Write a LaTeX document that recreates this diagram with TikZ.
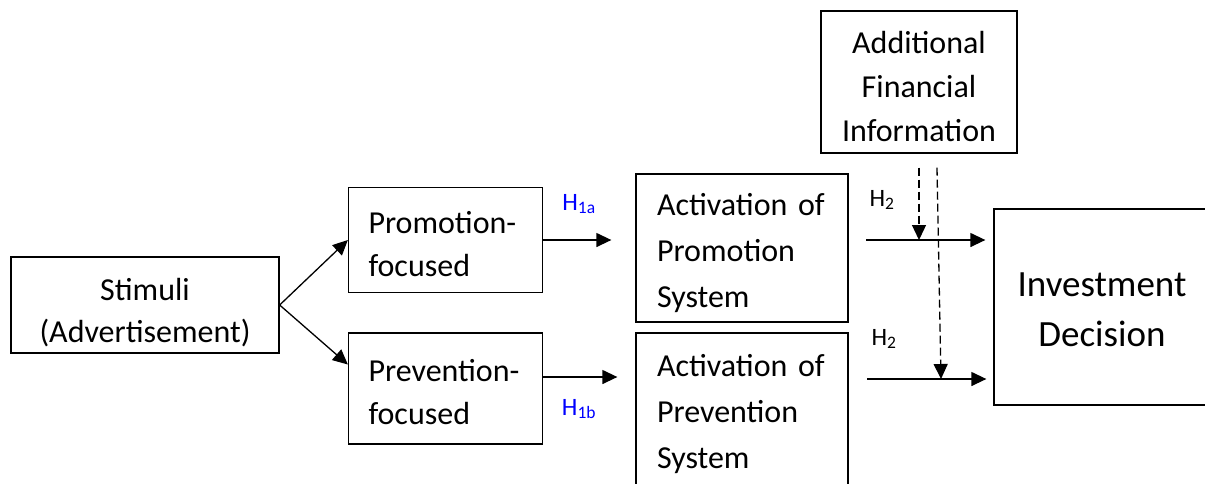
\documentclass[tikz,border=0pt]{standalone}
\usepackage{fontspec}
\setmainfont{Carlito}
\usetikzlibrary{arrows.meta,positioning}

% invisible strut that lowers the text block inside a box
\newcommand{\toplift}[1]{\rule{0pt}{#1pt}}

\begin{document}
\begin{tikzpicture}
	[
		x=1pt, y=-1pt,
		box/.style={rectangle, draw, line width=1.3pt, inner sep=0pt, font=\fontsize{32}{43}\selectfont},
		leftbox/.style={box, align=left, inner xsep=20pt, text width=154pt, minimum height=105pt},
		actbox/.style={box, align=left, inner xsep=21pt, text width=170pt, minimum height=148pt, font=\fontsize{32}{46}\selectfont},
		arr/.style={line width=1.3pt, -{Triangle[length=15pt,width=14pt]}},
		dasharr/.style={arr, dash pattern=on 8pt off 4pt},
		hlabel/.style={font=\fontsize{25}{28}\selectfont},
	]
	\useasboundingbox (0,0) rectangle (1205,483);
	\clip (0,0) rectangle (1205,483);

	\node [box, align=center, minimum width=268pt, minimum height=96pt, font=\fontsize{32}{42}\selectfont] (stimuli) at (145,305) {\toplift{37}Stimuli\\(Advertisement)};
	\node [leftbox] (prom) at (445.5,240) {\toplift{30}Promotion-\\focused};
	\node [leftbox, minimum height=111pt] (prev) at (445.5,388.5) {\toplift{30}Prevention-\\focused};
	\node [actbox] (actprom) at (742,248) {\toplift{33}Activation of\\Promotion\\System};
	\node [actbox, minimum height=154pt] (actprev) at (742,410) {\toplift{31}Activation of\\Prevention\\System};
	\node [box, align=center, minimum width=196pt, minimum height=142pt, font=\fontsize{32}{44}\selectfont] (info) at (919,82) {\toplift{31}Additional\\Financial\\Information};
	\node [box, align=center, minimum width=216pt, minimum height=196pt, font=\fontsize{37}{50}\selectfont] (invest) at (1102,307) {\toplift{30}Investment\\Decision};

	\node [hlabel, text=blue] (h1a) at (579,204) {H\textsubscript{1a}};
	\node [hlabel, text=blue] (h1b) at (579,409) {H\textsubscript{1b}};
	\node [hlabel] (h2up) at (882,200) {H\textsubscript{2}};
	\node [hlabel] (h2low) at (884,339) {H\textsubscript{2}};

	\coordinate (h2a) at (866,240);
	\coordinate (h2b) at (867,379);
	\coordinate (d1) at ([yshift=-14pt]info.south);
	\coordinate (d2) at ([xshift=18pt,yshift=-14pt]info.south);
	\coordinate (d2end) at (941,379);

	\draw[arr] (stimuli.east) -- (prom.west);
	\draw[arr] (stimuli.east) -- ([yshift=24pt]prev.west);

	\draw[arr, shorten >=24pt] (prom.east) -- (prom.east -| actprom.west);
	\draw[arr, shorten >=18pt] ([yshift=11.5pt]prev.east) -- ([yshift=11.5pt]prev.east -| actprev.west);

	\draw[arr, shorten >=8pt] (h2a) -- (h2a -| invest.west);
	\draw[arr, shorten >=7pt] (h2b) -- (h2b -| invest.west);

	\draw[dasharr] (d1) -- (d1 |- h2a);
	\draw[dasharr] (d2) -- (d2end);

\end{tikzpicture}
\end{document}
